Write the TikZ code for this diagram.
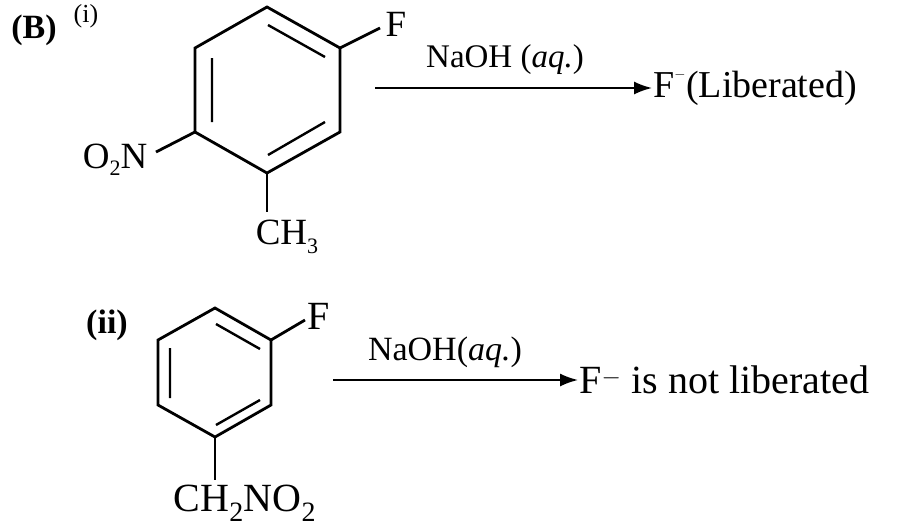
\documentclass[tikz,border=0pt]{standalone}
\usepackage{fontspec}
\usetikzlibrary{arrows.meta}
\setmainfont{Liberation Serif}
\begin{document}
\begin{tikzpicture}[x=1pt,y=-1pt,line width=2.6pt,
  bond/.style={line width=2.8pt},
  inner/.style={line width=2.4pt},
  lab/.style={inner sep=0pt,font=\fontsize{37}{40}\selectfont},
  rea/.style={inner sep=0pt,font=\fontsize{33}{36}\selectfont},
  arr/.style={line width=1.8pt,-{Latex[length=18pt,width=13pt]}}]
\useasboundingbox (0,0) rectangle (900,531);
\node[lab,font=\fontsize{34}{36}\selectfont\bfseries] (B) at (34,30) {(B)};
\node[lab,font=\fontsize{26}{28}\selectfont] (i) at (86,16) {(i)};
% ring 1
\coordinate (a1) at (267,7); \coordinate (a2) at (340,48); \coordinate (a3) at (340,132);
\coordinate (a4) at (267,173); \coordinate (a5) at (195,132); \coordinate (a6) at (195,48);
\draw[bond,line join=miter] (a1)--(a2)--(a3)--(a4)--(a5)--(a6)--cycle;
\draw[inner] (268,25)--(325,57) (212,58)--(212,122) (268,155)--(325,122);
\node[lab] (F1) at (396,24) {F};
\draw[bond] (a2)--(380,28);
\node[lab] (N1) at (115,160) {O\raisebox{-7pt}{\fontsize{22}{24}\selectfont 2}N};
\draw[bond] (a5)--(156,152);
\node[lab] (C1) at (287,237) {CH\raisebox{-9pt}{\fontsize{22}{24}\selectfont 3}};
\draw[bond] (a4)--(267,212);
\coordinate (s1) at (375,88);
\node[lab,anchor=west,font=\fontsize{38}{40}\selectfont] (P1) at (652,88) {F\raisebox{11pt}{\fontsize{22}{24}\selectfont $^{-}$}(Liberated)};
\draw[arr] (s1)--(P1.west);
\node[rea] (R1) at (505,60) {NaOH (\textit{aq.})};
% ring 2
\node[lab,font=\fontsize{34}{36}\selectfont\bfseries] (ii) at (107,325) {(ii)};
\coordinate (b1) at (215,308); \coordinate (b2) at (271,340); \coordinate (b3) at (271,405);
\coordinate (b4) at (215,437); \coordinate (b5) at (158,405); \coordinate (b6) at (158,340);
\draw[bond,line join=miter] (b1)--(b2)--(b3)--(b4)--(b5)--(b6)--cycle;
\draw[inner] (216,324)--(260,349) (170,348)--(170,398) (216,425)--(260,400);
\node[lab,font=\fontsize{40}{42}\selectfont] (F2) at (319,316) {F};
\draw[bond] (b2)--(305,320);
\node[lab,font=\fontsize{40}{42}\selectfont] (C2) at (245,503) {CH\textsubscript{2}NO\textsubscript{2}};
\draw[bond] (b4)--(215,480);
\coordinate (s2) at (333,380);
\node[lab,anchor=west,font=\fontsize{40}{42}\selectfont] (P2) at (578,380) {F$^{-}$ is not liberated};
\draw[arr] (s2)--(P2.west);
\node[rea,font=\fontsize{34}{36}\selectfont] (R2) at (445,352) {NaOH(\textit{aq.})};
\end{tikzpicture}
\end{document}
